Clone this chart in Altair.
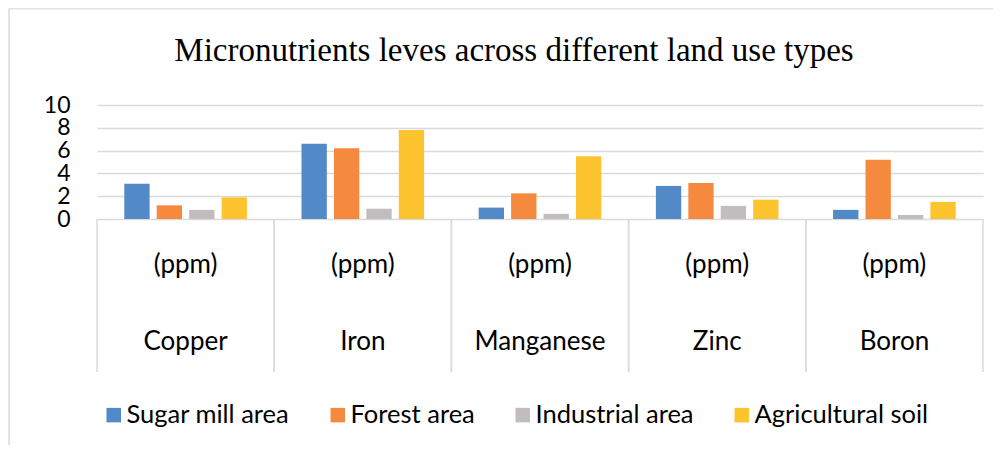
import json
import altair as alt
import pandas as pd

categories = ["Copper", "Iron", "Manganese", "Zinc", "Boron"]
series = ["Sugar mill area", "Forest area", "Industrial area", "Agricultural soil"]
sugar_mill = [3.1, 6.6, 1.0, 2.9, 0.8]
forest = [1.2, 6.2, 2.25, 3.15, 5.2]
industrial = [0.8, 0.9, 0.45, 1.15, 0.35]
agricultural = [1.9, 7.8, 5.5, 1.7, 1.5]
unit_label = "(ppm)"
y_ticks = [0, 2, 4, 6, 8, 10]
colors = ["#5289C7", "#F58A3E", "#C1BCBF", "#FEC42F"]

rows = []
for s, vals in zip(series, [sugar_mill, forest, industrial, agricultural]):
    for c, v in zip(categories, vals):
        rows.append({"Nutrient": c, "Land use": s, "Value": v})
df = pd.DataFrame(rows)
cat_df = pd.DataFrame({"Nutrient": categories})

W, H = 886, 267
YDOM = [-13.42, 10]
GRID = "#DADADA"
SANS = "Lato"
N = len(categories)
STEP = 0.183      # spacing between bars inside a group (in category units)
HALF = 0.0715     # half bar width (in category units)

cat_idx = "indexof(%s, datum.Nutrient)" % json.dumps(categories)
ser_idx = "indexof(%s, datum['Land use'])" % json.dumps(series)

xscale = alt.Scale(domain=[0, N], nice=False, zero=False)
yscale = alt.Scale(domain=YDOM, nice=False, zero=False)

bars = alt.Chart(df).transform_calculate(
    ci=cat_idx, si=ser_idx, base="0"
).transform_calculate(
    x0="datum.ci + 0.5 + (datum.si - 1.5) * %f - %f" % (STEP, HALF),
    x1="datum.ci + 0.5 + (datum.si - 1.5) * %f + %f" % (STEP, HALF),
).mark_bar().encode(
    x=alt.X("x0:Q", scale=xscale, axis=None),
    x2="x1:Q",
    y=alt.Y("Value:Q", scale=yscale,
            axis=alt.Axis(values=y_ticks, title=None, grid=True, gridColor=GRID,
                          gridWidth=1.5, domain=False, ticks=False, labelOverlap=False,
                          labelFont=SANS, labelFontSize=23, labelColor="#000000",
                          labelPadding=27, labelBaseline="middle")),
    y2="base:Q",
    color=alt.Color("Land use:N",
                    scale=alt.Scale(domain=series, range=colors),
                    legend=alt.Legend(title=None, orient="none", direction="horizontal",
                                      legendX=4, legendY=297,
                                      symbolType="square", symbolSize=210,
                                      symbolStrokeWidth=0, symbolOpacity=1,
                                      labelFont=SANS, labelFontSize=25.5, labelLimit=0,
                                      labelColor="#000000", labelOffset=0,
                                      columnPadding=35)),
)

cats = alt.Chart(cat_df).transform_calculate(ci=cat_idx).transform_calculate(
    cmid="datum.ci + 0.5", cend="datum.ci + 1"
)

separators = cats.mark_rule(color=GRID, strokeWidth=1.5).encode(
    x=alt.X("ci:Q", scale=xscale, axis=None),
    y=alt.value(114), y2=alt.value(H),
)
right_edge = cats.mark_rule(color=GRID, strokeWidth=1.5).encode(
    x=alt.X("cend:Q", scale=xscale, axis=None),
    y=alt.value(114), y2=alt.value(H),
)

ppm_text = cats.mark_text(
    text=unit_label, font=SANS, fontSize=26, color="#000000", baseline="middle"
).encode(x=alt.X("cmid:Q", scale=xscale, axis=None), y=alt.value(160))

name_text = cats.mark_text(
    font=SANS, fontSize=26, color="#000000", baseline="middle"
).encode(x=alt.X("cmid:Q", scale=xscale, axis=None), y=alt.value(237), text="Nutrient:N")

first = cats.transform_filter(alt.datum.ci == 0)
frame_left = first.mark_rule(color="#E3E3E3", strokeWidth=2, xOffset=-88).encode(
    x=alt.X("ci:Q", scale=xscale, axis=None),
    y=alt.value(-96.5), y2=alt.value(H + 120),
)
frame_top = first.mark_rule(color="#E3E3E3", strokeWidth=2, xOffset=-88, x2Offset=40).encode(
    x=alt.X("ci:Q", scale=xscale, axis=None),
    x2=alt.datum(N),
    y=alt.value(-96.5),
)

chart = alt.layer(frame_left, frame_top, separators, right_edge, bars, ppm_text, name_text).properties(
    width=W, height=H,
    title=alt.TitleParams("Micronutrients leves across different land use types",
                          font="Liberation Serif", fontSize=33, fontWeight="normal",
                          color="#000000", anchor="middle", dx=-26, offset=-60),
    autosize=alt.AutoSizeParams(type="none"),
    padding={"left": 89, "top": 97, "right": 10, "bottom": 73},
).configure_view(stroke=None)

chart.save("out.html", embed_options={"renderer": "svg", "actions": False})
